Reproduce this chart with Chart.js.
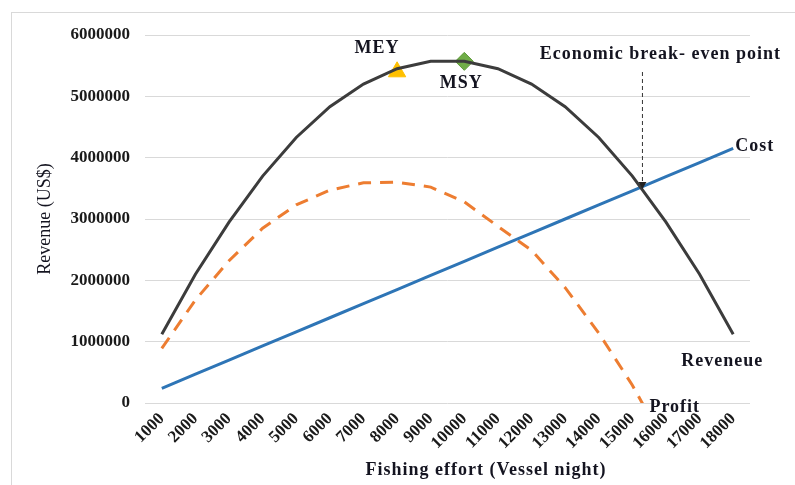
<!DOCTYPE html>
<html>
<head>
<meta charset="UTF-8">
<script src="https://cdn.jsdelivr.net/npm/chart.js"></script>
<style>
  html, body { margin: 0; padding: 0; background: #fff; }
  canvas { display: block; }
</style>
</head>
<body>
<canvas id="chart" width="795" height="485"></canvas>
<script>
// fishing effort (vessel night)
const effort = ['1000', '2000', '3000', '4000', '5000', '6000', '7000', '8000', '9000',
  '10000', '11000', '12000', '13000', '14000', '15000', '16000', '17000', '18000'];

// US$
const revenue = [1120000, 2100000, 2950000, 3700000, 4330000, 4830000, 5200000, 5450000, 5570000,
  5570000, 5450000, 5200000, 4830000, 4330000, 3700000, 2950000, 2100000, 1120000];
const cost = [240000, 470000, 700000, 930000, 1160000, 1390000, 1620000, 1850000, 2080000,
  2310000, 2540000, 2770000, 3000000, 3230000, 3460000, 3690000, 3920000, 4150000];
// profit goes below zero after 15000, the axis cuts it off
const profit = [890000, 1680000, 2320000, 2850000, 3230000, 3470000, 3590000, 3600000, 3520000,
  3280000, 2880000, 2490000, 1880000, 1140000, 290000, -700000, null, null];

const mey = { effort: '8000', value: 5400000 };
const msy = { effort: '10000', value: 5570000 };
const breakEven = { effort: 15300, value: 3520000 };

const yTicks = [0, 1000000, 2000000, 3000000, 4000000, 5000000, 6000000];

const serif = '"Liberation Serif", "Times New Roman", serif';
const textColor = '#141420';

// effort value -> pixel, between two category centres
function effortPixel(xs, e) {
  const i = (e - Number(effort[0])) / (Number(effort[1]) - Number(effort[0]));
  const i0 = Math.floor(i);
  const p0 = xs.getPixelForValue(i0);
  const p1 = xs.getPixelForValue(i0 + 1);
  return p0 + (p1 - p0) * (i - i0);
}

const frame = {
  id: 'frame',
  beforeDraw(chart) {
    const { ctx, width, height } = chart;
    ctx.save();
    ctx.fillStyle = '#fff';
    ctx.fillRect(0, 0, width, height);
    ctx.strokeStyle = '#d9d9d9';
    ctx.lineWidth = 1;
    ctx.strokeRect(11.5, 12.5, width + 10, height + 10);
    ctx.restore();
  }
};

const notes = {
  id: 'notes',
  afterDatasetsDraw(chart) {
    const { ctx, chartArea, scales: { x, y } } = chart;
    ctx.save();

    // break-even point
    const bx = effortPixel(x, breakEven.effort);
    const by = y.getPixelForValue(breakEven.value);
    ctx.strokeStyle = '#333';
    ctx.lineWidth = 1;
    ctx.setLineDash([4, 3]);
    ctx.beginPath();
    ctx.moveTo(bx, chartArea.top + 37);
    ctx.lineTo(bx, by - 3);
    ctx.stroke();
    ctx.setLineDash([]);
    ctx.fillStyle = '#222';
    ctx.beginPath();
    ctx.moveTo(bx - 4, by - 5);
    ctx.lineTo(bx + 4, by - 5);
    ctx.lineTo(bx, by + 2);
    ctx.closePath();
    ctx.fill();

    ctx.fillStyle = textColor;
    ctx.font = 'bold 18px ' + serif;
    ctx.letterSpacing = '1px';
    ctx.textBaseline = 'middle';

    ctx.textAlign = 'center';
    ctx.fillText('MEY', x.getPixelForValue(effort.indexOf(mey.effort)) - 20, y.getPixelForValue(mey.value) - 23);
    ctx.fillText('MSY', x.getPixelForValue(effort.indexOf(msy.effort)) - 3, y.getPixelForValue(msy.value) + 22);
    ctx.fillText('Economic break- even point', bx + 18, chartArea.top + 19);

    const last = effort.length - 1;
    ctx.textAlign = 'left';
    ctx.fillText('Cost', x.getPixelForValue(last) + 2, y.getPixelForValue(cost[last]) - 2);
    ctx.textAlign = 'center';
    ctx.fillText('Reveneue', x.getPixelForValue(last) - 11, y.getPixelForValue(revenue[last]) + 27);
    ctx.textAlign = 'left';
    ctx.fillText('Profit', effortPixel(x, breakEven.effort) + 7, y.getPixelForValue(0) + 4);

    // axis titles
    ctx.textAlign = 'center';
    ctx.fillText('Fishing effort (Vessel night)', 486, 470);
    ctx.letterSpacing = '0px';
    ctx.font = '18px ' + serif;
    ctx.translate(45, (chartArea.top + chartArea.bottom) / 2);
    ctx.rotate(-Math.PI / 2);
    ctx.fillText('Revenue (US$)', 0, 0);
    ctx.restore();
  }
};

new Chart(document.getElementById('chart'), {
  type: 'line',
  data: {
    labels: effort,
    datasets: [
      {
        label: 'Revenue', data: revenue,
        borderColor: '#3c3c3c', borderWidth: 3, pointRadius: 0, tension: 0
      },
      {
        label: 'Cost', data: cost,
        borderColor: '#2e75b6', borderWidth: 3, pointRadius: 0, tension: 0
      },
      {
        label: 'Profit', data: profit,
        borderColor: '#ed7d31', borderWidth: 3, borderDash: [13, 9], pointRadius: 0, tension: 0
      },
      {
        label: 'MEY', data: [{ x: mey.effort, y: mey.value }], showLine: false,
        pointStyle: 'triangle', pointRadius: 10,
        backgroundColor: '#ffc000', borderColor: '#ffc000', borderWidth: 1
      },
      {
        label: 'MSY', data: [{ x: msy.effort, y: msy.value }], showLine: false,
        pointStyle: 'rectRot', pointRadius: 9,
        backgroundColor: '#70ad47', borderColor: '#5e9a3a', borderWidth: 1
      }
    ]
  },
  options: {
    responsive: false,
    animation: false,
    layout: { padding: { left: 10, right: 45, top: 35, bottom: 0 } },
    plugins: { legend: { display: false }, tooltip: { enabled: false } },
    scales: {
      x: {
        offset: true,
        grid: { display: false, drawTicks: false },
        border: { display: false },
        ticks: {
          autoSkip: false, minRotation: 45, maxRotation: 45, padding: 6,
          color: '#1a1a1a', font: { family: serif, size: 17, weight: 'bold' }
        },
        afterFit(s) { s.height = 82; }
      },
      y: {
        min: 0, max: 6000000,
        afterBuildTicks(s) { s.ticks = yTicks.map(v => ({ value: v })); },
        grid: { color: '#d9d9d9', lineWidth: 1, drawTicks: false },
        border: { display: false },
        ticks: {
          padding: 15, color: '#1a1a1a',
          font: { family: serif, size: 17, weight: 'bold' },
          callback: v => String(v)
        },
        afterFit(s) { s.width = 135; }
      }
    }
  },
  plugins: [frame, notes]
});
</script>
</body>
</html>
